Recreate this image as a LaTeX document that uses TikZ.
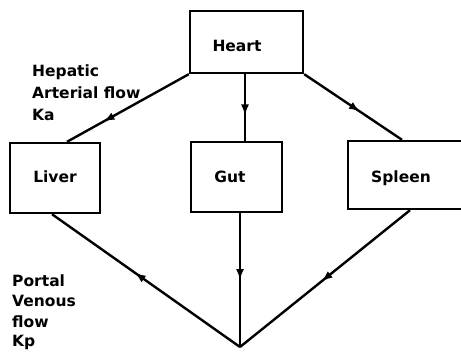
\documentclass[tikz,border=0pt]{standalone}
\usepackage{fontspec}
\setmainfont{DejaVu Sans}
\usetikzlibrary{arrows.meta,decorations.markings,calc}
\begin{document}
\begin{tikzpicture}[x=1pt,y=-1pt,
  box/.style={draw,line width=2.4pt,minimum width=#1,inner sep=0pt},
  lbl/.style={font=\bfseries\fontsize{15.5}{15.5}\selectfont,anchor=base,inner sep=0pt},
  note/.style={font=\bfseries\fontsize{15.5}{22}\selectfont,align=left,anchor=base west,inner sep=0pt},
  flow/.style={line width=2.4pt},
  midarrow/.style={postaction={decorate,decoration={markings,mark=at position #1 with {\arrow{Latex[length=11pt,width=8pt]}}}}}]
\useasboundingbox (0,0) rectangle (461,358);
\node[box=113pt,minimum height=62pt] (heart) at (246.5,42) {};
\node[box=90pt,minimum height=70pt] (liver) at (55,178) {};
\node[box=91pt,minimum height=70pt] (gut) at (236.5,177) {};
\node[box=114pt,minimum height=68pt] (spleen) at (405,175) {};
\node[lbl] (tHeart) at (237,52) {Heart};
\node[lbl] (tLiver) at (55,183) {Liver};
\node[lbl] (tGut) at (230,183) {Gut};
\node[lbl] (tSpleen) at (401,183) {Spleen};
\node[note] (ka) at (32,121) {Hepatic\\Arterial flow\\Ka};
\node[note,font=\bfseries\fontsize{15.5}{20}\selectfont] (kp) at (12,347) {Portal\\Venous\\flow\\Kp};
\coordinate (v) at (240,347);
\draw[flow,midarrow=0.70] (heart.south west) -- ($(liver.north)+(12,0)$);
\draw[flow,midarrow=0.62] (heart.south -| 245,0) -- (gut.north -| 245,0);
\draw[flow,midarrow=0.57] (heart.south east) -- ($(spleen.north)+(-3,0)$);
\draw[flow,midarrow=0.56] (v) -- ($(liver.south)+(-3,0)$);
\draw[flow,midarrow=0.50] (gut.south -| v) -- (v);
\draw[flow,midarrow=0.52] ($(spleen.south)+(5,0)$) -- (v);
\end{tikzpicture}
\end{document}
